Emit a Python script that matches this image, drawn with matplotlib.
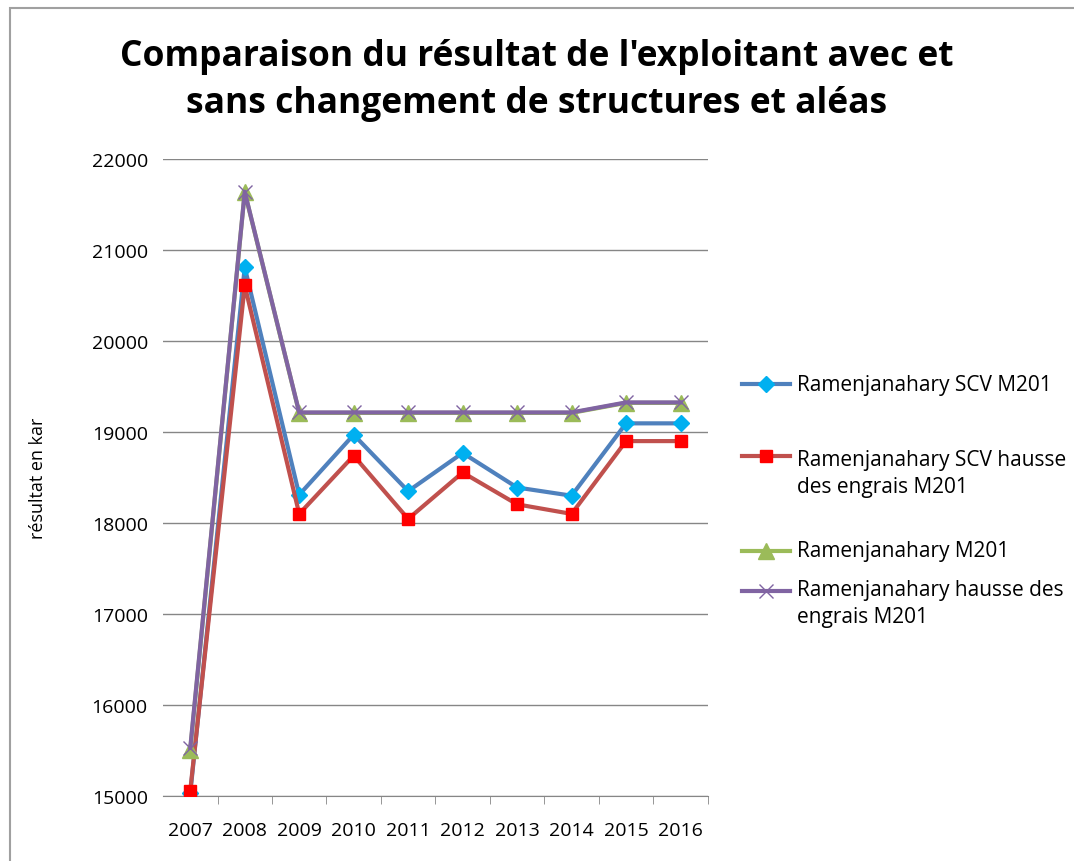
import matplotlib
matplotlib.use("Agg")
from matplotlib import pyplot as plt
from matplotlib.patches import Rectangle
from matplotlib.lines import Line2D

years = ['2007', '2008', '2009', '2010', '2011', '2012', '2013', '2014', '2015', '2016']

scv = [15030, 20810, 18310, 18970, 18350, 18770, 18390, 18300, 19095, 19095]
scv_hausse = [15060, 20610, 18100, 18740, 18045, 18555, 18205, 18100, 18900, 18900]
m201 = [15510, 21635, 19210, 19210, 19210, 19210, 19210, 19210, 19320, 19320]
hausse = [15530, 21640, 19215, 19215, 19215, 19215, 19215, 19215, 19325, 19325]

labels = ['Ramenjanahary SCV M201',
          'Ramenjanahary SCV hausse\ndes engrais M201',
          'Ramenjanahary M201',
          'Ramenjanahary hausse des\nengrais M201']

# line style per series (same order as labels)
styles = [
    dict(color='#4F81BD', lw=3, marker='D', ms=8, mfc='#00B0F0', mec='#00B0F0'),
    dict(color='#C0504D', lw=3, marker='s', ms=9, mfc='#FF0000', mec='#FF0000'),
    dict(color='#9BBB59', lw=3, marker='^', ms=11, mfc='#9BBB59', mec='#9BBB59'),
    dict(color='#8064A2', lw=3, marker='x', ms=10, mew=1, mec='#8064A2'),
]

plt.rcParams['font.family'] = ['Open Sans', 'DejaVu Sans']

fig = plt.figure(figsize=(10.74, 8.62), dpi=100)
ax = fig.add_axes([0.1518, 0.0754, 0.659 - 0.1518, 0.8144 - 0.0754])

x = list(range(len(years)))
for i, serie in enumerate([scv, scv_hausse, m201, hausse]):
    ax.plot(x, serie, zorder=3 + i, **styles[i])

ax.set_xlim(-0.5, 9.5)
ax.set_ylim(15000, 22000)
ax.set_yticks(range(15000, 22001, 1000))
ax.yaxis.grid(True, color='#868686', lw=1)
ax.set_axisbelow(True)
for s in ['left', 'right', 'top']:
    ax.spines[s].set_visible(False)
ax.spines['bottom'].set_color('#868686')
ax.tick_params(axis='y', length=0, labelsize=14, pad=11)
ax.set_xticks(x)
ax.set_xticklabels(years, fontsize=14)
ax.tick_params(axis='x', which='major', length=0, pad=18)
ax.set_xticks([i + 0.5 for i in x], minor=True)
ax.tick_params(axis='x', which='minor', length=6, color='#868686', direction='out')
ax.set_ylabel('résultat en kar', fontsize=13)
ax.yaxis.set_label_coords(-0.213, 0.5)

fig.text(0.5, 0.9066, "Comparaison du résultat de l'exploitant avec et\nsans changement de structures et aléas",
         fontsize=25.5, fontweight='bold', ha='center', va='center', linespacing=1.43)

# legend drawn by hand, like the Excel one (uneven spacing)
W, H = 1074.0, 862.0
leg_y = [385, 450, 552, 580]
leg_hy = [385, 457, 552, 592]
for i in range(4):
    st = styles[i]
    fig.add_artist(Line2D([742 / W, 790 / W], [1 - leg_hy[i] / H] * 2, transform=fig.transFigure,
                          color=st['color'], lw=st['lw']))
    fig.add_artist(Line2D([766 / W], [1 - leg_hy[i] / H], transform=fig.transFigure, ls='none',
                          marker=st['marker'], ms=st['ms'], mfc=st.get('mfc', 'none'),
                          mec=st['mec'], mew=st.get('mew', 1)))
    fig.text(797 / W, 1 - leg_y[i] / H, labels[i], fontsize=15, ha='left',
             va='center' if '\n' not in labels[i] else 'top', linespacing=1.4)

fig.patches.append(Rectangle((0.009, -0.01), 1.1, 1.0, transform=fig.transFigure,
                             fill=False, edgecolor='#A0A0A0', lw=1.5))

fig.savefig('out.png', dpi=100)
